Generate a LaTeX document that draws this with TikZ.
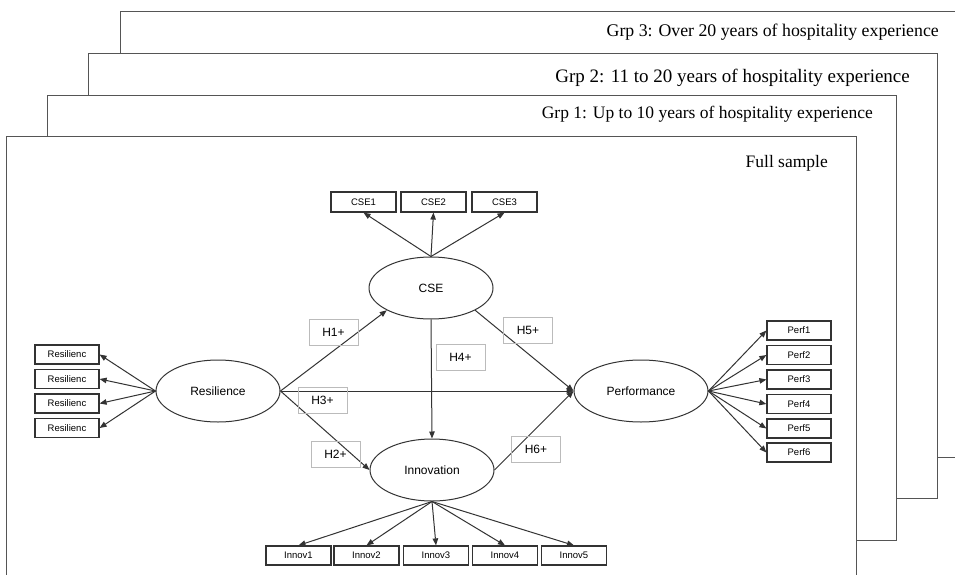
\documentclass[tikz,border=0pt]{standalone}
\usepackage{fontspec}
\setmainfont{Liberation Serif}
\setsansfont{Liberation Sans}
\usepackage{tikz}
\usetikzlibrary{positioning}
\usetikzlibrary{arrows.meta,shapes}
\definecolor{lncol}{HTML}{333333}
\definecolor{framecol}{HTML}{555555}
\definecolor{hypcol}{HTML}{BBBBBB}
\tikzstyle{latent}=[ellipse,draw=lncol,line width=1pt,minimum width=124pt,minimum height=62pt,inner sep=0pt,font=\sffamily\fontsize{12}{14}\selectfont]
\tikzstyle{indicator}=[rectangle,draw=lncol,line width=1.2pt,minimum width=64pt,minimum height=19pt,inner sep=0pt,font=\sffamily\fontsize{9.5}{11}\selectfont]
\tikzstyle{hyp}=[rectangle,draw=hypcol,line width=1pt,minimum width=49pt,minimum height=26pt,inner sep=0pt,font=\sffamily\fontsize{12}{14}\selectfont]
\tikzstyle{edge} = [draw=lncol,line width=1pt,-{Triangle[length=7pt,width=5.5pt]}]
\tikzstyle{grpframe} = [draw=framecol,line width=1pt,fill=white]
\tikzstyle{grplabel} = [anchor=east,inner sep=0pt]

\begin{document}
\begin{tikzpicture}[x=1pt,y=-1pt]

  \clip (0,0) rectangle (955,575);

  % stacked group frames, back to front
  \foreach \xa/\ya/\xb/\yb in {120/12/990/457, 88/54/937/498, 47/96/896/540, 6/136/856/610}
          \draw[grpframe] (\xa,\ya) rectangle (\xb,\yb);

  \foreach \x/\y/\s/\name/\label in {939/32/17.8/grp3/{Grp 3: Over 20 years of hospitality experience}, 910/78/19/grp2/{Grp 2: 11 to 20 years of hospitality experience}, 873/114/17.5/grp1/{Grp 1: Up to 10 years of hospitality experience}, 828/163/17.5/full/{Full sample}}
          \node[grplabel,font=\fontsize{\s}{20}\selectfont] (\name) at (\x,\y) {\label};

  % latent variables
  \foreach \x/\y/\name/\label in {218/391/res/Resilience, 431/288/cse/CSE, 432/470/inn/Innovation}
          \node[latent] (\name) at (\x,\y) {\label};
  \node[latent,minimum width=134pt] (perf) at (641,391) {Performance};

  % indicators
  \foreach \y [count=\i] in {354.5,379,403.5,428}
          \node[indicator] (res\i) at (67,\y) {Resilienc};
  \foreach \y [count=\i] in {330.5,355,379.5,404,428.5,452.5}
          \node[indicator] (perf\i) at (799,\y) {Perf\i};
  \foreach \x [count=\i] in {298.5,366.5,436,505,574}
          \node[indicator,minimum width=65pt] (innov\i) at (\x,555.5) {Innov\i};
  \foreach \x [count=\i] in {363.5,433.5,504.5}
          \node[indicator,minimum width=65pt,minimum height=20pt] (cse\i) at (\x,202) {CSE\i};

  \foreach \i in {1,...,4}
         \path[edge] (res.west) -- (res\i.east);
  \foreach \i in {1,...,6}
         \path[edge] (perf.east) -- (perf\i.west);
  \foreach \i in {1,...,5}
         \path[edge] (inn.south) -- (innov\i.north);
  \foreach \i in {1,2,3}
         \path[edge] (cse.north) -- (cse\i.south);

  % hypothesised paths
  \foreach \source/ \dest in {res.east/cse.south west, res.east/inn.west, res.east/perf.west, cse.south/inn.north, cse.south east/perf.west, inn.east/perf.west}
         \path[edge] (\source) -- (\dest);

  \foreach \x/\y/\name/\label in {333.5/332/h1/H1+, 335.5/454/h2/H2+, 322.5/400/h3/H3+, 460.5/357/h4/H4+, 528/330/h5/H5+, 536/449.5/h6/H6+}
          \node[hyp] (\name) at (\x,\y) {\label};

\end{tikzpicture}
\end{document}
